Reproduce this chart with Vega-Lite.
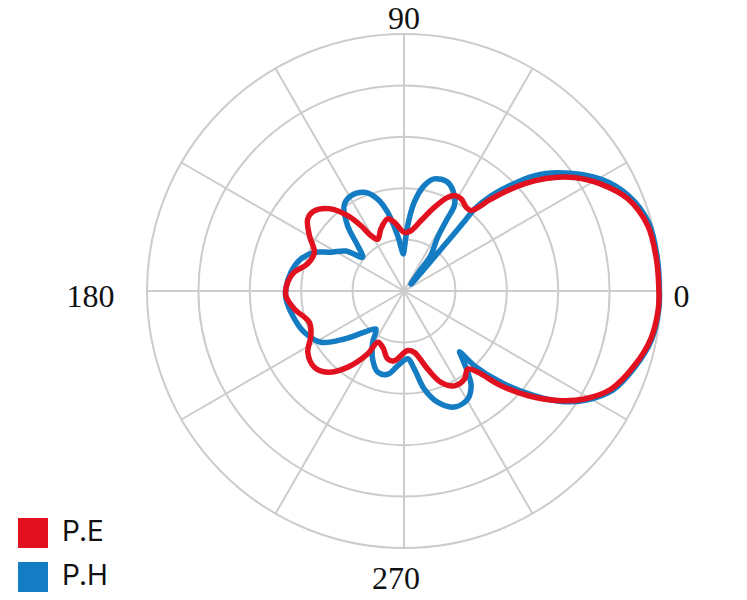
{
  "$schema": "https://vega.github.io/schema/vega-lite/v6.json",
  "description": "Polar radiation pattern, E-plane and H-plane.",
  "autosize": "none",
  "width": 514,
  "height": 514,
  "padding": {"left": 147, "top": 34, "right": 86, "bottom": 52},
  "background": "white",
  "config": {"view": {"stroke": null}},
  "datasets": {
    "rings": [{"r": 10}, {"r": 20}, {"r": 30}, {"r": 40}, {"r": 50}],
    "spokes": [
      {"a": 0}, {"a": 30}, {"a": 60}, {"a": 90}, {"a": 120}, {"a": 150},
      {"a": 180}, {"a": 210}, {"a": 240}, {"a": 270}, {"a": 300}, {"a": 330}
    ],
    "labels": [
      {"a": 0, "label": "0"}, {"a": 90, "label": "90"},
      {"a": 180, "label": "180"}, {"a": 270, "label": "270"}
    ],
    "pattern": [
      {"s": "P.E", "i": 0, "a": 0, "r": 49.6},
      {"s": "P.E", "i": 1, "a": 7.2, "r": 49.5},
      {"s": "P.E", "i": 2, "a": 15, "r": 49.1},
      {"s": "P.E", "i": 3, "a": 22.4, "r": 47.1},
      {"s": "P.E", "i": 4, "a": 28.5, "r": 43.6},
      {"s": "P.E", "i": 5, "a": 33.7, "r": 39.8},
      {"s": "P.E", "i": 6, "a": 36.5, "r": 37.2},
      {"s": "P.E", "i": 7, "a": 40.2, "r": 33.2},
      {"s": "P.E", "i": 8, "a": 43.6, "r": 28.8},
      {"s": "P.E", "i": 9, "a": 46.6, "r": 24.6},
      {"s": "P.E", "i": 10, "a": 50.2, "r": 20.4},
      {"s": "P.E", "i": 11, "a": 53.5, "r": 20.3},
      {"s": "P.E", "i": 12, "a": 58.2, "r": 21.1},
      {"s": "P.E", "i": 13, "a": 62.2, "r": 21.0},
      {"s": "P.E", "i": 14, "a": 65, "r": 20.1},
      {"s": "P.E", "i": 15, "a": 70.1, "r": 17.3},
      {"s": "P.E", "i": 16, "a": 76.4, "r": 14.1},
      {"s": "P.E", "i": 17, "a": 83.4, "r": 11.8},
      {"s": "P.E", "i": 18, "a": 89.7, "r": 11.4},
      {"s": "P.E", "i": 19, "a": 98, "r": 13.5},
      {"s": "P.E", "i": 20, "a": 102.8, "r": 14.4},
      {"s": "P.E", "i": 21, "a": 110.4, "r": 12.9},
      {"s": "P.E", "i": 22, "a": 116.8, "r": 11.3},
      {"s": "P.E", "i": 23, "a": 120.8, "r": 12.5},
      {"s": "P.E", "i": 24, "a": 123.4, "r": 15.2},
      {"s": "P.E", "i": 25, "a": 126.8, "r": 18.3},
      {"s": "P.E", "i": 26, "a": 131.7, "r": 21.4},
      {"s": "P.E", "i": 27, "a": 138.2, "r": 23.4},
      {"s": "P.E", "i": 28, "a": 143.2, "r": 23.4},
      {"s": "P.E", "i": 29, "a": 149.7, "r": 21.3},
      {"s": "P.E", "i": 30, "a": 156.7, "r": 19.0},
      {"s": "P.E", "i": 31, "a": 164.3, "r": 19.5},
      {"s": "P.E", "i": 32, "a": 170.3, "r": 21.7},
      {"s": "P.E", "i": 33, "a": 175.7, "r": 22.7},
      {"s": "P.E", "i": 34, "a": 182.3, "r": 23.0},
      {"s": "P.E", "i": 35, "a": 189.3, "r": 21.6},
      {"s": "P.E", "i": 36, "a": 198.3, "r": 19.4},
      {"s": "P.E", "i": 37, "a": 205.7, "r": 20.1},
      {"s": "P.E", "i": 38, "a": 212.5, "r": 22.2},
      {"s": "P.E", "i": 39, "a": 220.4, "r": 22.9},
      {"s": "P.E", "i": 40, "a": 226.8, "r": 21.7},
      {"s": "P.E", "i": 41, "a": 233.6, "r": 18.4},
      {"s": "P.E", "i": 42, "a": 240, "r": 14.1},
      {"s": "P.E", "i": 43, "a": 242.9, "r": 11.2},
      {"s": "P.E", "i": 44, "a": 249.3, "r": 11.7},
      {"s": "P.E", "i": 45, "a": 256.5, "r": 13.6},
      {"s": "P.E", "i": 46, "a": 262.1, "r": 13.7},
      {"s": "P.E", "i": 47, "a": 273.5, "r": 11.6},
      {"s": "P.E", "i": 48, "a": 279.5, "r": 12.1},
      {"s": "P.E", "i": 49, "a": 286.9, "r": 15.9},
      {"s": "P.E", "i": 50, "a": 292.1, "r": 19.2},
      {"s": "P.E", "i": 51, "a": 298, "r": 20.9},
      {"s": "P.E", "i": 52, "a": 304.4, "r": 20.8},
      {"s": "P.E", "i": 53, "a": 309.2, "r": 19.6},
      {"s": "P.E", "i": 54, "a": 312.2, "r": 21.3},
      {"s": "P.E", "i": 55, "a": 315.7, "r": 26.4},
      {"s": "P.E", "i": 56, "a": 319.8, "r": 31.5},
      {"s": "P.E", "i": 57, "a": 324.5, "r": 36.7},
      {"s": "P.E", "i": 58, "a": 329.1, "r": 40.9},
      {"s": "P.E", "i": 59, "a": 334.7, "r": 44.6},
      {"s": "P.E", "i": 60, "a": 342, "r": 47.1},
      {"s": "P.E", "i": 61, "a": 349, "r": 48.9},
      {"s": "P.E", "i": 62, "a": 356, "r": 49.6},
      {"s": "P.E", "i": 63, "a": 360, "r": 49.6},
      {"s": "P.H", "i": 0, "a": 0, "r": 49.7},
      {"s": "P.H", "i": 1, "a": 7.2, "r": 49.7},
      {"s": "P.H", "i": 2, "a": 15.7, "r": 49.4},
      {"s": "P.H", "i": 3, "a": 23.1, "r": 47.4},
      {"s": "P.H", "i": 4, "a": 29.5, "r": 44.1},
      {"s": "P.H", "i": 5, "a": 37.5, "r": 37.8},
      {"s": "P.H", "i": 6, "a": 41.5, "r": 33.8},
      {"s": "P.H", "i": 7, "a": 44.7, "r": 29.3},
      {"s": "P.H", "i": 8, "a": 47.5, "r": 25.1},
      {"s": "P.H", "i": 9, "a": 49.3, "r": 21.0},
      {"s": "P.H", "i": 10, "a": 49, "r": 17.5},
      {"s": "P.H", "i": 11, "a": 48.7, "r": 13.6},
      {"s": "P.H", "i": 12, "a": 48.4, "r": 10.1},
      {"s": "P.H", "i": 13, "a": 47.5, "r": 6.2},
      {"s": "P.H", "i": 14, "a": 45, "r": 1.9},
      {"s": "P.H", "i": 15, "a": 52, "r": 5.1},
      {"s": "P.H", "i": 16, "a": 53, "r": 8.6},
      {"s": "P.H", "i": 17, "a": 57.9, "r": 12.3},
      {"s": "P.H", "i": 18, "a": 59, "r": 16.0},
      {"s": "P.H", "i": 19, "a": 59.5, "r": 19.3},
      {"s": "P.H", "i": 20, "a": 62.2, "r": 21.0},
      {"s": "P.H", "i": 21, "a": 68.1, "r": 22.8},
      {"s": "P.H", "i": 22, "a": 74.9, "r": 22.6},
      {"s": "P.H", "i": 23, "a": 79.1, "r": 20.9},
      {"s": "P.H", "i": 24, "a": 83.4, "r": 17.4},
      {"s": "P.H", "i": 25, "a": 86.8, "r": 12.7},
      {"s": "P.H", "i": 26, "a": 89.6, "r": 8.2},
      {"s": "P.H", "i": 27, "a": 91, "r": 7.2},
      {"s": "P.H", "i": 28, "a": 96.5, "r": 10.8},
      {"s": "P.H", "i": 29, "a": 101.7, "r": 15.6},
      {"s": "P.H", "i": 30, "a": 106, "r": 18.6},
      {"s": "P.H", "i": 31, "a": 111.9, "r": 20.7},
      {"s": "P.H", "i": 32, "a": 119.1, "r": 21.2},
      {"s": "P.H", "i": 33, "a": 125, "r": 20.3},
      {"s": "P.H", "i": 34, "a": 130.8, "r": 16.8},
      {"s": "P.H", "i": 35, "a": 135.6, "r": 12.6},
      {"s": "P.H", "i": 36, "a": 140.8, "r": 10.4},
      {"s": "P.H", "i": 37, "a": 145.4, "r": 13.7},
      {"s": "P.H", "i": 38, "a": 152.1, "r": 16.1},
      {"s": "P.H", "i": 39, "a": 156.7, "r": 19.0},
      {"s": "P.H", "i": 40, "a": 162.7, "r": 21.0},
      {"s": "P.H", "i": 41, "a": 170.6, "r": 22.3},
      {"s": "P.H", "i": 42, "a": 179, "r": 23.0},
      {"s": "P.H", "i": 43, "a": 183.9, "r": 23.0},
      {"s": "P.H", "i": 44, "a": 194.3, "r": 22.0},
      {"s": "P.H", "i": 45, "a": 202.5, "r": 21.0},
      {"s": "P.H", "i": 46, "a": 211.7, "r": 19.0},
      {"s": "P.H", "i": 47, "a": 218.8, "r": 14.9},
      {"s": "P.H", "i": 48, "a": 226.1, "r": 11.1},
      {"s": "P.H", "i": 49, "a": 233.6, "r": 9.2},
      {"s": "P.H", "i": 50, "a": 238.6, "r": 11.7},
      {"s": "P.H", "i": 51, "a": 245.3, "r": 14.6},
      {"s": "P.H", "i": 52, "a": 252.1, "r": 16.6},
      {"s": "P.H", "i": 53, "a": 258.9, "r": 16.5},
      {"s": "P.H", "i": 54, "a": 265.2, "r": 14.6},
      {"s": "P.H", "i": 55, "a": 273.1, "r": 13.2},
      {"s": "P.H", "i": 56, "a": 277.5, "r": 15.3},
      {"s": "P.H", "i": 57, "a": 281.7, "r": 19.5},
      {"s": "P.H", "i": 58, "a": 286.8, "r": 22.6},
      {"s": "P.H", "i": 59, "a": 293.4, "r": 24.6},
      {"s": "P.H", "i": 60, "a": 300.5, "r": 24.4},
      {"s": "P.H", "i": 61, "a": 305.3, "r": 22.6},
      {"s": "P.H", "i": 62, "a": 308.1, "r": 20.1},
      {"s": "P.H", "i": 63, "a": 311.4, "r": 16.8},
      {"s": "P.H", "i": 64, "a": 312.4, "r": 16.0},
      {"s": "P.H", "i": 65, "a": 313.3, "r": 20.0},
      {"s": "P.H", "i": 66, "a": 316.7, "r": 25.9},
      {"s": "P.H", "i": 67, "a": 321.2, "r": 32.5},
      {"s": "P.H", "i": 68, "a": 324.9, "r": 37.4},
      {"s": "P.H", "i": 69, "a": 329.1, "r": 41.3},
      {"s": "P.H", "i": 70, "a": 334.7, "r": 45.0},
      {"s": "P.H", "i": 71, "a": 342.1, "r": 47.4},
      {"s": "P.H", "i": 72, "a": 349, "r": 49.1},
      {"s": "P.H", "i": 73, "a": 356, "r": 49.7},
      {"s": "P.H", "i": 74, "a": 360, "r": 49.7}
    ]
  },
  "layer": [
    {
      "data": {"name": "rings"},
      "transform": [{"calculate": "0", "as": "o"}],
      "mark": {"type": "point", "shape": "circle", "filled": false, "stroke": "#cccccc", "strokeWidth": 2, "opacity": 1},
      "encoding": {
        "x": {"field": "o", "type": "quantitative", "scale": {"domain": [-50, 50], "nice": false, "zero": false}, "axis": null},
        "y": {"field": "o", "type": "quantitative", "scale": {"domain": [-50, 50], "nice": false, "zero": false}, "axis": null},
        "size": {"field": "r", "type": "quantitative", "scale": {"type": "pow", "exponent": 2, "domain": [0, 50], "range": [0, 264196]}, "legend": null}
      }
    },
    {
      "data": {"name": "spokes"},
      "transform": [
        {"calculate": "0", "as": "o"},
        {"calculate": "50 * cos(datum.a * PI / 180)", "as": "xe"},
        {"calculate": "50 * sin(datum.a * PI / 180)", "as": "ye"}
      ],
      "mark": {"type": "rule", "color": "#cccccc", "strokeWidth": 2},
      "encoding": {
        "x": {"field": "o", "type": "quantitative"},
        "y": {"field": "o", "type": "quantitative"},
        "x2": {"field": "xe"},
        "y2": {"field": "ye"}
      }
    },
    {
      "data": {"name": "pattern"},
      "transform": [
        {"filter": "datum.s == 'P.H'"},
        {"calculate": "datum.r * cos(datum.a * PI / 180)", "as": "x"},
        {"calculate": "datum.r * sin(datum.a * PI / 180)", "as": "y"}
      ],
      "mark": {"type": "line", "interpolate": "catmull-rom", "strokeWidth": 5.5, "strokeCap": "round", "strokeJoin": "round"},
      "encoding": {
        "x": {"field": "x", "type": "quantitative"},
        "y": {"field": "y", "type": "quantitative"},
        "order": {"field": "i", "type": "quantitative"},
        "color": {
          "field": "s", "type": "nominal",
          "scale": {"domain": ["P.E", "P.H"], "range": ["#e2111f", "#137cc2"]},
          "legend": {
            "title": null, "orient": "none", "legendX": -129, "legendY": 484,
            "symbolType": "square", "symbolSize": 900, "symbolStrokeWidth": 0,
            "labelFont": "Inter", "labelFontSize": 28, "labelFontWeight": 400, "labelColor": "#111111",
            "labelOffset": 14, "rowPadding": 14, "padding": 0,
            "encode": {"symbols": {"update": {"fill": {"scale": "color", "field": "value"}, "opacity": {"value": 1}}}}
          }
        }
      }
    },
    {
      "data": {"name": "pattern"},
      "transform": [
        {"filter": "datum.s == 'P.E'"},
        {"calculate": "datum.r * cos(datum.a * PI / 180)", "as": "x"},
        {"calculate": "datum.r * sin(datum.a * PI / 180)", "as": "y"}
      ],
      "mark": {"type": "line", "interpolate": "catmull-rom", "strokeWidth": 5.5, "strokeCap": "round", "strokeJoin": "round"},
      "encoding": {
        "x": {"field": "x", "type": "quantitative"},
        "y": {"field": "y", "type": "quantitative"},
        "order": {"field": "i", "type": "quantitative"},
        "color": {"field": "s", "type": "nominal"}
      }
    },
    {
      "data": {"name": "labels"},
      "transform": [
        {"filter": "datum.a == 0 || datum.a == 90"},
        {"calculate": "54 * cos(datum.a * PI / 180)", "as": "x"},
        {"calculate": "54 * sin(datum.a * PI / 180)", "as": "y"}
      ],
      "mark": {"type": "text", "font": "Liberation Serif", "fontSize": 32, "color": "#111111", "align": "center", "baseline": "middle", "dy": 6},
      "encoding": {
        "x": {"field": "x", "type": "quantitative"},
        "y": {"field": "y", "type": "quantitative"},
        "text": {"field": "label", "type": "nominal"}
      }
    },
    {
      "data": {"name": "labels"},
      "transform": [
        {"filter": "datum.a == 180"},
        {"calculate": "54 * cos(datum.a * PI / 180)", "as": "x"},
        {"calculate": "54 * sin(datum.a * PI / 180)", "as": "y"}
      ],
      "mark": {"type": "text", "font": "Liberation Serif", "fontSize": 32, "color": "#111111", "align": "center", "baseline": "middle", "dx": -36, "dy": 6},
      "encoding": {
        "x": {"field": "x", "type": "quantitative"},
        "y": {"field": "y", "type": "quantitative"},
        "text": {"field": "label", "type": "nominal"}
      }
    },
    {
      "data": {"name": "labels"},
      "transform": [
        {"filter": "datum.a == 270"},
        {"calculate": "54 * cos(datum.a * PI / 180)", "as": "x"},
        {"calculate": "54 * sin(datum.a * PI / 180)", "as": "y"}
      ],
      "mark": {"type": "text", "font": "Liberation Serif", "fontSize": 32, "color": "#111111", "align": "center", "baseline": "middle", "dx": -8, "dy": 10},
      "encoding": {
        "x": {"field": "x", "type": "quantitative"},
        "y": {"field": "y", "type": "quantitative"},
        "text": {"field": "label", "type": "nominal"}
      }
    }
  ]
}
